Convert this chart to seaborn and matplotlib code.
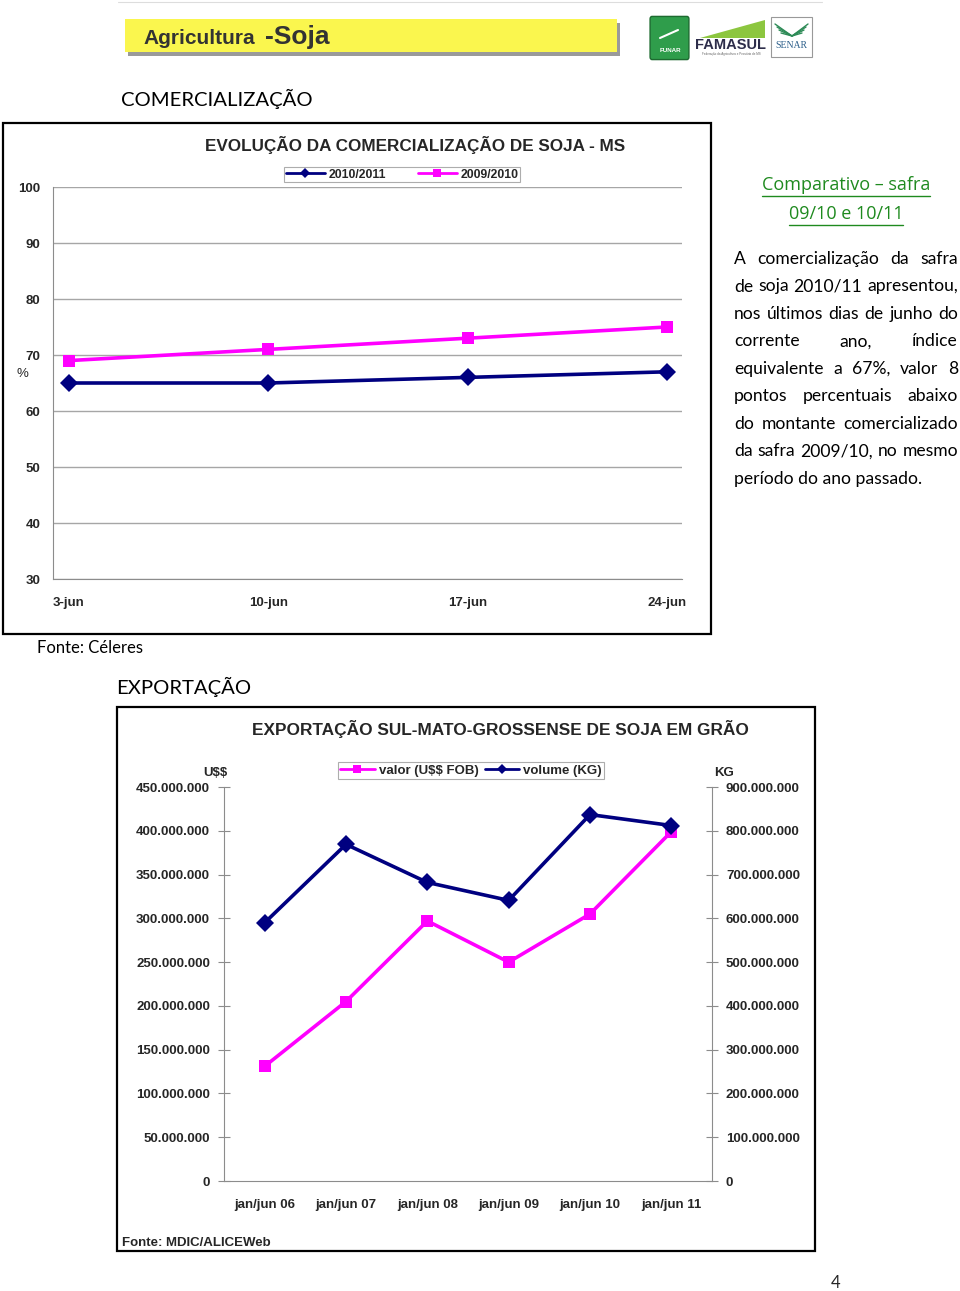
import matplotlib
matplotlib.use('Agg')
import matplotlib.pyplot as plt
import numpy as np
import pandas as pd
import seaborn as sns
from matplotlib.patches import Rectangle, FancyBboxPatch, Polygon
from matplotlib.lines import Line2D

W, H = 960, 1291

# comercializacao (% da safra comercializada)
com_days = [3, 10, 17, 24]
com_labels = ['3-jun', '10-jun', '17-jun', '24-jun']
safra_1011 = [65, 65, 66, 67]
safra_0910 = [69, 71, 73, 75]

# exportacao de soja em grao
exp_periods = ['jan/jun 06', 'jan/jun 07', 'jan/jun 08', 'jan/jun 09', 'jan/jun 10', 'jan/jun 11']
exp_valor = [131e6, 205e6, 297e6, 250e6, 305e6, 399e6]     # U$$ FOB
exp_volume = [590e6, 769e6, 682e6, 641e6, 837e6, 812e6]    # KG

paragraph = ['A comercialização da safra',
             'de soja 2010/11 apresentou,',
             'nos últimos dias de junho do',
             'corrente ano, índice',
             'equivalente a 67%, valor 8',
             'pontos percentuais abaixo',
             'do montante comercializado',
             'da safra 2009/10, no mesmo',
             'período do ano passado.']

NAVY = '#000080'
PINK = '#FF00FF'
GRAY = '#8c8c8c'

sns.set_style('white')
plt.rcParams['font.family'] = ['Liberation Sans', 'DejaVu Sans']
plt.rcParams['text.parse_math'] = False

fig = plt.figure(figsize=(9.6, 12.91), dpi=100)


def fx(x):
    return x / W


def fy(y):
    return 1 - y / H


def box(x0, y0, x1, y1, **kw):
    fig.add_artist(Rectangle((fx(x0), fy(y1)), (x1 - x0) / W, (y1 - y0) / H,
                             transform=fig.transFigure, **kw))


def put(x, y, s, **kw):
    kw.setdefault('va', 'center')
    return fig.text(fx(x), fy(y), s, **kw)


# ---- header ----
fig.add_artist(Line2D([fx(118), fx(822)], [fy(2), fy(2)], color='#dddddd', lw=0.8))
box(128, 23, 620, 56, fc='#9a9a9a', ec='none')
box(125, 19, 617, 52, fc='#FAF64E', ec='none')
put(143, 38, 'Agricultura', fontsize=15, fontweight='bold', color='#333333')
put(265, 37, '-Soja', fontsize=19, fontweight='bold', color='#333333')

# logos (rough)
fig.add_artist(FancyBboxPatch((fx(652), fy(57)), 35 / W, 38 / H, boxstyle='round,pad=0.002',
                              transform=fig.transFigure, fc='#2f9d4b', ec='#1d6b30', lw=1))
put(670, 50, 'FUNAR', fontsize=4.5, fontweight='bold', color='white', ha='center')
fig.add_artist(Line2D([fx(660), fx(678)], [fy(38), fy(30)], color='white', lw=1.5))
fig.add_artist(Polygon([(fx(700), fy(38)), (fx(765), fy(20)), (fx(765), fy(38))],
                       transform=fig.transFigure, fc='#8cc63f', ec='none'))
put(731, 45, 'FAMASUL', fontsize=10.5, fontweight='bold', color='#2d2d4a', ha='center')
put(731, 54, 'Federação da Agricultura e Pecuária de MS', fontsize=2.2, color='#666666', ha='center')
box(771, 17, 812, 57, fc='white', ec='#999999', lw=0.8)
for k in range(4):
    fig.add_artist(Line2D([fx(775 + k * 2), fx(792), fx(808 - k * 2)],
                          [fy(24 + k * 3), fy(36), fy(24 + k * 3)], color='#2e8b57', lw=1))
put(791, 46, 'SENAR', fontsize=7, color='#2c5f8a', ha='center', family='Liberation Serif')

# ---- section titles ----
put(121, 99, 'COMERCIALIZAÇÃO', fontsize=14.6, family='Lato', color='black')
put(37, 648, 'Fonte: Céleres', fontsize=12, family='Lato', color='black')
put(116, 687, 'EXPORTAÇÃO', fontsize=14.6, family='Lato', color='black')
put(836, 1283, '4', fontsize=12, family='Lato', ha='center')

# ---- chart 1: comercializacao ----
box(3, 123, 711, 634, fill=False, ec='black', lw=1.6)
ax1 = fig.add_axes([fx(53), fy(579), (682 - 53) / W, (579 - 187) / H])
df1 = pd.DataFrame({'dia': com_days * 2,
                    'pct': safra_1011 + safra_0910,
                    'safra': ['2010/2011'] * 4 + ['2009/2010'] * 4})
sns.lineplot(data=df1, x='dia', y='pct', hue='safra', style='safra',
             palette={'2010/2011': NAVY, '2009/2010': PINK},
             markers={'2010/2011': 'D', '2009/2010': 's'}, dashes=False,
             linewidth=2.6, markersize=9, markeredgewidth=0, legend=False, ax=ax1)
ax1.set_xlim(2.44, 24.53)
ax1.set_ylim(30, 100)
ax1.set_yticks(range(30, 101, 10))
ax1.set_xticks(com_days)
ax1.set_xticklabels(com_labels)
ax1.set_xticks([d - 0.5 for d in com_days], minor=True)
ax1.tick_params(axis='x', which='major', length=0, pad=13, labelsize=9.5)
ax1.tick_params(axis='x', which='minor', length=5, direction='out', color=GRAY)
ax1.tick_params(axis='y', length=4, direction='out', color=GRAY, pad=5, labelsize=9.5)
for lab in ax1.get_xticklabels() + ax1.get_yticklabels():
    lab.set_fontweight('bold')
ax1.yaxis.grid(True, color='#a6a6a6', lw=1)
ax1.set_axisbelow(True)
ax1.set_xlabel('')
ax1.set_ylabel('')
for s in ['top', 'right']:
    ax1.spines[s].set_visible(False)
for s in ['left', 'bottom']:
    ax1.spines[s].set_color(GRAY)
put(22, 374, '%', fontsize=9.5, ha='center')
put(415, 145, 'EVOLUÇÃO DA COMERCIALIZAÇÃO DE SOJA - MS', fontsize=12.3, fontweight='bold', ha='center')
h1 = [Line2D([], [], color=NAVY, marker='D', ms=5.5, lw=2, mew=0),
      Line2D([], [], color=PINK, marker='s', ms=5.5, lw=2, mew=0)]
leg1 = fig.legend(h1, ['2010/2011', '2009/2010'], loc='center',
                  bbox_to_anchor=(fx(402), fy(174.5)), ncol=2, fancybox=False,
                  edgecolor='#999999', prop={'size': 8.8, 'weight': 'bold'},
                  handlelength=3.2, columnspacing=2.6, borderpad=0.15, handletextpad=0.3,
                  borderaxespad=0)
leg1.get_frame().set_linewidth(0.8)

# ---- paragraph on the right ----
fig.canvas.draw()
renderer = fig.canvas.get_renderer()
GREEN = '#1f8a1f'
for yy, s in [(185, 'Comparativo – safra'), (214, '09/10 e 10/11')]:
    t = put(846, yy, s, fontsize=13, color=GREEN, ha='center', family='Open Sans')
    bb = t.get_window_extent(renderer)
    fig.add_artist(Line2D([bb.x0 / W, bb.x1 / W], [fy(yy + 11), fy(yy + 11)], color=GREEN, lw=1))

PFS = 12.6
x_left, x_right = 734, 958
for i, line in enumerate(paragraph):
    yy = 259 + i * 27.5
    words = line.split()
    if i == len(paragraph) - 1:
        put(x_left, yy, line, fontsize=PFS, family='Lato', color='black')
        continue
    widths = []
    for w_ in words:
        t = put(0, 0, w_, fontsize=PFS, family='Lato')
        widths.append(t.get_window_extent(renderer).width)
        t.remove()
    gap = (x_right - x_left - sum(widths)) / (len(words) - 1)
    xx = x_left
    for w_, wd in zip(words, widths):
        put(xx, yy, w_, fontsize=PFS, family='Lato', color='black')
        xx += wd + gap

# ---- chart 2: exportacao ----
box(117, 707, 815, 1251, fill=False, ec='black', lw=1.6)
ax2 = fig.add_axes([fx(224), fy(1181), (712 - 224) / W, (1181 - 787) / H])
xpos = np.arange(len(exp_periods))
sns.lineplot(x=xpos, y=exp_valor, color=PINK, marker='s', markersize=9,
             markeredgewidth=0, linewidth=2.6, ax=ax2)
ax2.set_xlim(-0.5, len(exp_periods) - 0.5)
ax2.set_ylim(0, 450e6)
ax2.set_yticks(np.arange(0, 450e6 + 1, 50e6))
ax2.yaxis.set_major_formatter(plt.FuncFormatter(lambda v, p: f'{v:,.0f}'.replace(',', '.')))
ax2.set_xticks(xpos)
ax2.set_xticklabels(exp_periods)
ax2.set_xticks(np.arange(-0.5, len(exp_periods)), minor=True)
ax2.tick_params(axis='x', which='major', length=0, pad=13, labelsize=9.5)
ax2.tick_params(axis='x', which='minor', length=8, direction='inout', color=GRAY)
ax2.tick_params(axis='y', length=8, direction='inout', color=GRAY, pad=6, labelsize=9.5)
for s in ['top', 'right']:
    ax2.spines[s].set_visible(False)
for s in ['left', 'bottom']:
    ax2.spines[s].set_color(GRAY)

ax3 = ax2.twinx()
sns.lineplot(x=xpos, y=exp_volume, color=NAVY, marker='D', markersize=9,
             markeredgewidth=0, linewidth=2.6, ax=ax3)
ax3.set_ylim(0, 900e6)
ax3.set_yticks(np.arange(0, 900e6 + 1, 100e6))
ax3.yaxis.set_major_formatter(plt.FuncFormatter(lambda v, p: f'{v:,.0f}'.replace(',', '.')))
ax3.tick_params(axis='y', length=8, direction='inout', color=GRAY, pad=6, labelsize=9.5)
for s in ['top', 'left', 'bottom']:
    ax3.spines[s].set_visible(False)
ax3.spines['right'].set_color(GRAY)
for a in (ax2, ax3):
    a.grid(False)
    a.set_xlabel('')
    a.set_ylabel('')
    for lab in a.get_xticklabels() + a.get_yticklabels():
        lab.set_fontweight('bold')

put(500, 729, 'EXPORTAÇÃO SUL-MATO-GROSSENSE DE SOJA EM GRÃO', fontsize=12.4, fontweight='bold', ha='center')
put(227, 773, 'U$$', fontsize=9.5, fontweight='bold', ha='right')
put(714, 773, 'KG', fontsize=9.5, fontweight='bold', ha='left')
put(122, 1243, 'Fonte: MDIC/ALICEWeb', fontsize=9.5, fontweight='bold')
h2 = [Line2D([], [], color=PINK, marker='s', ms=5.5, lw=2, mew=0),
      Line2D([], [], color=NAVY, marker='D', ms=5.5, lw=2, mew=0)]
leg2 = fig.legend(h2, ['valor (U$$ FOB)', 'volume (KG)'], loc='center',
                  bbox_to_anchor=(fx(471), fy(770.5)), ncol=2, fancybox=False,
                  edgecolor='#999999', prop={'size': 9.5, 'weight': 'bold'},
                  handlelength=2.6, columnspacing=0.5, borderpad=0.15, handletextpad=0.3,
                  borderaxespad=0)
leg2.get_frame().set_linewidth(0.8)

fig.savefig('out.png', dpi=100)
